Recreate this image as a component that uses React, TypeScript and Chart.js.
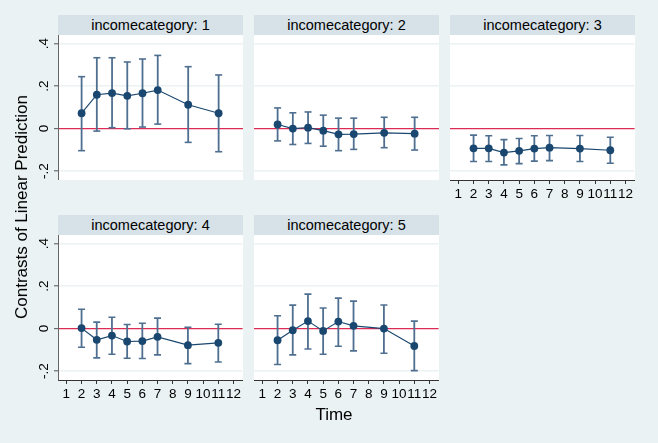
import React, { useEffect, useRef } from "react";
import { Chart, registerables } from "chart.js";

Chart.register(...registerables);

// ---- data ----
const times = [2, 3, 4, 5, 6, 7, 9, 11];
const xTicks = [1, 2, 3, 4, 5, 6, 7, 8, 9, 10, 11, 12];
const yTicks = [-0.2, 0, 0.2, 0.4];
const yTickLabels = ["-.2", "0", ".2", ".4"];
const panelTitles = ["incomecategory: 1", "incomecategory: 2", "incomecategory: 3", "incomecategory: 4", "incomecategory: 5"];

const cat1Est = [0.072, 0.159, 0.167, 0.154, 0.166, 0.181, 0.112, 0.072];
const cat1Hi = [0.244, 0.333, 0.333, 0.313, 0.327, 0.344, 0.291, 0.252];
const cat1Lo = [-0.104, -0.012, 0.004, -0.001, 0.007, 0.021, -0.065, -0.109];

const cat2Est = [0.019, 0.0, 0.004, -0.01, -0.027, -0.026, -0.02, -0.024];
const cat2Hi = [0.097, 0.074, 0.078, 0.063, 0.049, 0.049, 0.053, 0.053];
const cat2Lo = [-0.058, -0.075, -0.07, -0.083, -0.104, -0.098, -0.09, -0.101];

const cat3Est = [-0.093, -0.093, -0.113, -0.105, -0.094, -0.09, -0.094, -0.102];
const cat3Hi = [-0.031, -0.034, -0.052, -0.047, -0.034, -0.033, -0.033, -0.041];
const cat3Lo = [-0.155, -0.155, -0.171, -0.165, -0.153, -0.151, -0.155, -0.163];

const cat4Est = [0.002, -0.053, -0.033, -0.061, -0.059, -0.039, -0.078, -0.067];
const cat4Hi = [0.091, 0.03, 0.053, 0.019, 0.025, 0.049, 0.006, 0.02];
const cat4Lo = [-0.088, -0.138, -0.121, -0.14, -0.141, -0.124, -0.165, -0.157];

const cat5Est = [-0.055, -0.008, 0.035, -0.011, 0.033, 0.013, 0.0, -0.082];
const cat5Hi = [0.06, 0.11, 0.162, 0.097, 0.143, 0.129, 0.111, 0.035];
const cat5Lo = [-0.169, -0.124, -0.096, -0.121, -0.083, -0.105, -0.116, -0.198];

const yTitle = "Contrasts of Linear Prediction";
const xTitle = "Time";

// ---- style ----
const FONT = "'Liberation Sans', Arial, sans-serif";
const BG = "#eaf2f3";
const STRIP = "#d6e2e8";
const NAVY = "#1a476f";
const CI = "#4f6f90";
const ZERO = "#dc2b55";

const PLOT_W = 185;
const PLOT_H = 145;
const Y_AXIS_W = 30;
const X_AXIS_H = 26;
const TICK_FONT = 13.5;

type PanelProps = {
  title: string;
  est: number[];
  lo: number[];
  hi: number[];
  left: number;
  top: number;
  showY: boolean;
  showX: boolean;
};

const yLabelPlugin = {
  id: "yRotLabels",
  afterDraw(chart: any, _args: any, opts: any) {
    if (!opts || !opts.show) return;
    const ys = chart.scales.y;
    const ctx = chart.ctx;
    ctx.save();
    ctx.fillStyle = "#000";
    ctx.font = `${TICK_FONT}px ${FONT}`;
    ctx.textAlign = "center";
    ctx.textBaseline = "alphabetic";
    yTicks.forEach((v, i) => {
      const py = ys.getPixelForValue(v);
      ctx.save();
      ctx.translate(chart.chartArea.left - 10, py);
      ctx.rotate(-Math.PI / 2);
      ctx.fillText(yTickLabels[i], 0, 0);
      ctx.restore();
    });
    ctx.restore();
  },
};

function Panel({ title, est, lo, hi, left, top, showY, showX }: PanelProps) {
  const ref = useRef<HTMLCanvasElement | null>(null);
  const cw = PLOT_W + (showY ? Y_AXIS_W : 0);
  const ch = PLOT_H + (showX ? X_AXIS_H : 0);

  useEffect(() => {
    if (!ref.current) return;
    const ciSets = times.map((t, i) => ({
      type: "line" as const,
      data: [
        { x: t, y: lo[i] },
        { x: t, y: hi[i] },
      ],
      borderColor: CI,
      borderWidth: 1.8,
      pointStyle: "line",
      pointRadius: 3.5,
      pointBorderColor: CI,
      pointBorderWidth: 1.6,
      pointHoverRadius: 3.5,
      order: 2,
    }));
    const chart = new Chart(ref.current, {
      type: "line",
      data: {
        datasets: [
          {
            data: times.map((t, i) => ({ x: t, y: est[i] })),
            borderColor: NAVY,
            borderWidth: 1.2,
            pointRadius: 3.9,
            pointBackgroundColor: NAVY,
            pointBorderColor: NAVY,
            pointBorderWidth: 0,
            order: 0,
          },
          ...ciSets,
        ] as any,
      },
      options: {
        animation: false,
        responsive: false,
        devicePixelRatio: 1,
        layout: { padding: 0, autoPadding: false },
        plugins: {
          legend: { display: false },
          tooltip: { enabled: false },
          yRotLabels: { show: showY },
        } as any,
        scales: {
          x: {
            type: "linear",
            min: 0.45,
            max: 12.6,
            afterBuildTicks: (axis: any) => {
              axis.ticks = xTicks.map((v) => ({ value: v }));
            },
            afterFit: (axis: any) => {
              axis.height = showX ? X_AXIS_H : 0;
            },
            ticks: {
              display: showX,
              autoSkip: false,
              maxRotation: 0,
              minRotation: 0,
              padding: 2,
              color: "#000",
              font: { size: TICK_FONT, family: FONT },
              callback: (v: any) => String(v),
            },
            grid: {
              drawOnChartArea: false,
              drawTicks: showX,
              tickLength: 4,
              tickColor: "#333",
              tickWidth: 1,
            },
            border: { display: showX, color: "#333", width: 1 },
          },
          y: {
            type: "linear",
            min: -0.242,
            max: 0.44,
            afterBuildTicks: (axis: any) => {
              axis.ticks = yTicks.map((v) => ({ value: v }));
            },
            afterFit: (axis: any) => {
              axis.width = showY ? Y_AXIS_W : 0;
            },
            ticks: { display: false },
            grid: {
              color: (c: any) => (c.tick && c.tick.value === 0 ? ZERO : BG),
              lineWidth: (c: any) => (c.tick && c.tick.value === 0 ? 1.3 : 1.6),
              drawTicks: showY,
              tickLength: 4,
              tickColor: "#555",
              tickWidth: 1,
            },
            border: { display: showY, color: "#666", width: 1 },
          },
        },
      } as any,
      plugins: [yLabelPlugin],
    });
    return () => chart.destroy();
  }, []);

  return (
    <>
      <div
        style={{
          position: "absolute",
          left,
          top: top - 20,
          width: PLOT_W,
          height: 20,
          background: STRIP,
          color: "#000",
          font: `14.5px ${FONT}`,
          lineHeight: "20px",
          textAlign: "center",
          whiteSpace: "nowrap",
        }}
      >
        {title}
      </div>
      <div
        style={{
          position: "absolute",
          left,
          top,
          width: PLOT_W,
          height: PLOT_H,
          background: "#fff",
        }}
      />
      <canvas
        ref={ref}
        width={cw}
        height={ch}
        style={{
          position: "absolute",
          left: left - (showY ? Y_AXIS_W : 0),
          top,
          width: cw,
          height: ch,
        }}
      />
    </>
  );
}

export default function App() {
  const panels = [
    { est: cat1Est, lo: cat1Lo, hi: cat1Hi, left: 58, top: 35, showY: true, showX: false },
    { est: cat2Est, lo: cat2Lo, hi: cat2Hi, left: 254, top: 35, showY: false, showX: false },
    { est: cat3Est, lo: cat3Lo, hi: cat3Hi, left: 450, top: 35, showY: false, showX: true },
    { est: cat4Est, lo: cat4Lo, hi: cat4Hi, left: 58, top: 235, showY: true, showX: true },
    { est: cat5Est, lo: cat5Lo, hi: cat5Hi, left: 254, top: 235, showY: false, showX: true },
  ];
  return (
    <div
      style={{
        position: "fixed",
        left: 0,
        top: 0,
        width: 658,
        height: 443,
        background: BG,
        overflow: "hidden",
      }}
    >
      {panels.map((p, i) => (
        <Panel key={i} title={panelTitles[i]} {...p} />
      ))}
      <div
        style={{
          position: "absolute",
          left: 22,
          top: 207,
          transform: "translate(-50%, -50%) rotate(-90deg)",
          font: `17px ${FONT}`,
          color: "#000",
          whiteSpace: "nowrap",
        }}
      >
        {yTitle}
      </div>
      <div
        style={{
          position: "absolute",
          left: 334,
          top: 415,
          transform: "translate(-50%, -50%)",
          font: `17px ${FONT}`,
          color: "#000",
          whiteSpace: "nowrap",
        }}
      >
        {xTitle}
      </div>
    </div>
  );
}
